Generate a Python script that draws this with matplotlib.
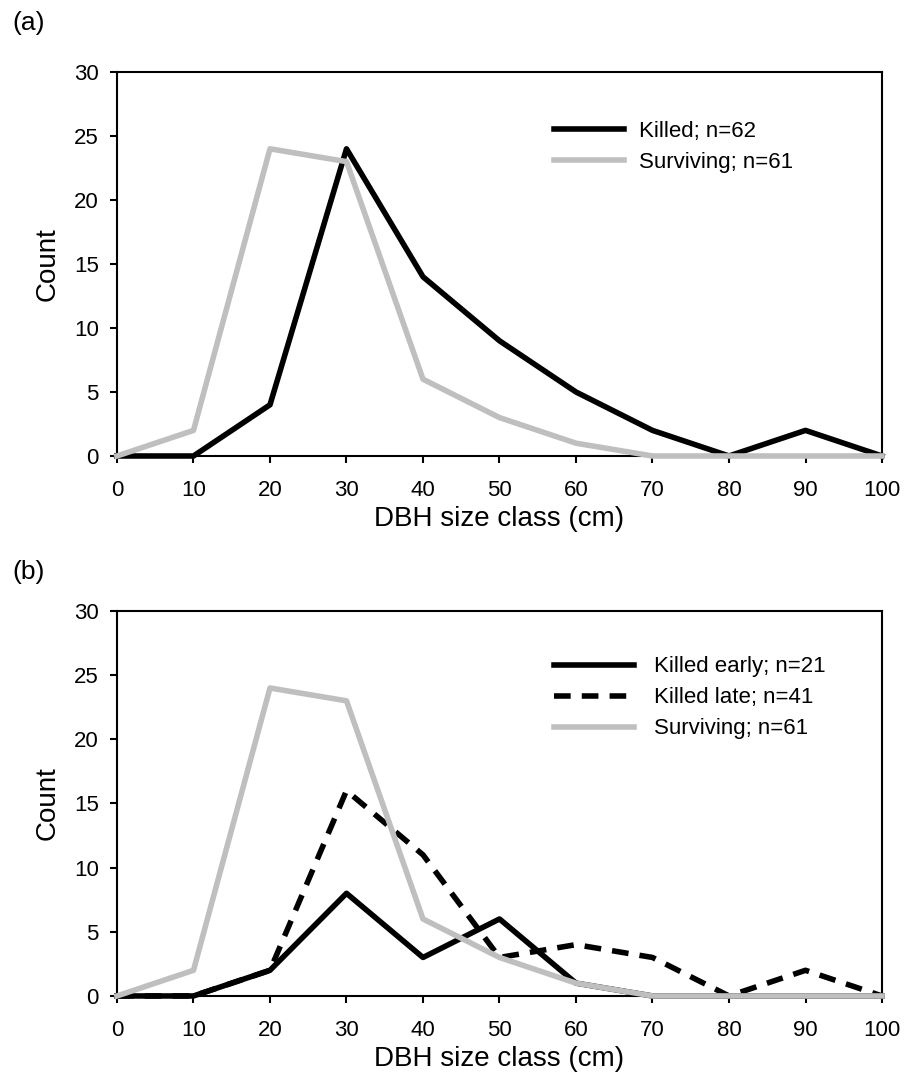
import matplotlib.pyplot as plt

plt.rcParams['font.family'] = ['Liberation Sans', 'DejaVu Sans']

# DBH size classes (cm)
size_class = [0, 10, 20, 30, 40, 50, 60, 70, 80, 90, 100]

# panel (a)
killed = [0, 0, 4, 24, 14, 9, 5, 2, 0, 2, 0]
surviving = [0, 2, 24, 23, 6, 3, 1, 0, 0, 0, 0]

# panel (b)
killed_early = [0, 0, 2, 8, 3, 6, 1, 0, 0, 0, 0]
killed_late = [0, 0, 2, 16, 11, 3, 4, 3, 0, 2, 0]

GREY = '#BFBFBF'


def style_axes(ax):
    ax.set_xlim(0, 100)
    ax.set_ylim(0, 30)
    ax.set_xticks(range(0, 101, 10))
    ax.set_yticks(range(0, 31, 5))
    ax.tick_params(direction='out', length=5, width=1.5, labelsize=16)
    ax.tick_params(axis='x', pad=12)
    ax.tick_params(axis='y', pad=8)
    for s in ax.spines.values():
        s.set_linewidth(1.5)
    ax.set_xlabel('DBH size class (cm)', fontsize=20, labelpad=4)
    ax.set_ylabel('Count', fontsize=20, labelpad=10)


fig = plt.figure(figsize=(9.09, 10.78), dpi=100)
ax1 = fig.add_axes([0.1287, 0.577, 0.8416, 0.3562])
ax2 = fig.add_axes([0.1287, 0.0761, 0.8416, 0.3571])

# (a)
ax1.plot(size_class, killed, color='black', lw=4, label='Killed; n=62', clip_on=False, zorder=2)
ax1.plot(size_class, surviving, color=GREY, lw=4, label='Surviving; n=61', clip_on=False, zorder=3)
style_axes(ax1)
ax1.legend(loc='upper left', bbox_to_anchor=(0.559, 0.895), frameon=False, fontsize=16,
           handlelength=3.15, handletextpad=0.7, labelspacing=0.45, borderaxespad=0)

# (b)
ax2.plot(size_class, killed_early, color='black', lw=4, label='Killed early; n=21', clip_on=False, zorder=2)
ax2.plot(size_class, killed_late, color='black', lw=4, dashes=(3, 2), label='Killed late; n=41',
         clip_on=False, zorder=2)
ax2.plot(size_class, surviving, color=GREY, lw=4, label='Surviving; n=61', clip_on=False, zorder=3)
style_axes(ax2)
ax2.legend(loc='upper left', bbox_to_anchor=(0.559, 0.905), frameon=False, fontsize=16,
           handlelength=3.6, handletextpad=0.9, labelspacing=0.45, borderaxespad=0)

fig.text(0.014, 0.979, '(a)', fontsize=19, va='center', ha='left')
fig.text(0.014, 0.469, '(b)', fontsize=19, va='center', ha='left')

fig.savefig('out.png', dpi=100)
